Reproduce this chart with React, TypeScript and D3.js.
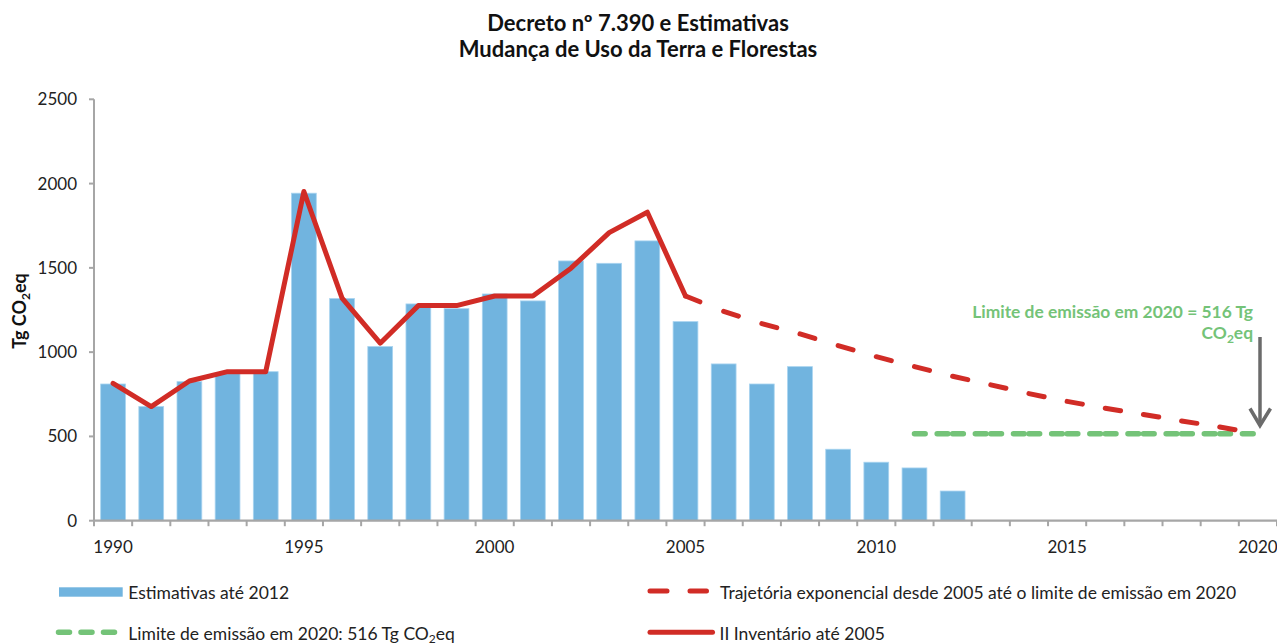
import React from "react";
import * as d3 from "d3";

const years: number[] = d3.range(1990, 2021);
const estimativaYears: number[] = d3.range(1990, 2013);
const estimativas: number[] = [811, 677, 825, 872, 884, 1943, 1318, 1033, 1286, 1258, 1345, 1304, 1541, 1527, 1660, 1181, 930, 811, 914, 424, 347, 313, 176];
const inventarioYears: number[] = d3.range(1990, 2006);
const inventario: number[] = [815, 677, 829, 884, 884, 1953, 1320, 1053, 1276, 1276, 1333, 1333, 1498, 1709, 1830, 1333];
const trajetoriaYears: number[] = d3.range(2005, 2021);
const trajetoria: number[] = [1333, 1242, 1169, 1108, 1039, 973, 914, 857, 806, 754, 708, 667, 630, 592, 556, 516];
const limiteYears: number[] = d3.range(2011, 2021);
const limite: number[] = [516, 516, 516, 516, 516, 516, 516, 516, 516, 516];
const yTicks: number[] = [0, 500, 1000, 1500, 2000, 2500];
const xTickLabels: number[] = [1990, 1995, 2000, 2005, 2010, 2015, 2020];

const W = 1277;
const H = 644;
const FONT = "Lato, 'Open Sans', sans-serif";
const BLUE = "#71b4df";
const RED = "#d12c26";
const GREEN = "#74c378";
const AXIS = "#a6a6a6";

export default function App() {
  const x = d3.scaleBand<number>().domain(years).range([94, 1277]).paddingInner(0).paddingOuter(0);
  const y = d3.scaleLinear().domain([0, 2500]).range([520.7, 99.3]);
  const bw = x.bandwidth();
  const cx = (yr: number) => (x(yr) as number) + bw / 2;
  const barW = bw * 0.65;

  const line = d3.line<[number, number]>().x((d) => cx(d[0])).y((d) => y(d[1]));
  const invPath = line(inventarioYears.map((yr, i) => [yr, inventario[i]] as [number, number])) || "";

  const trajSegs = d3.pairs(trajetoriaYears.map((yr, i) => [yr, trajetoria[i]] as [number, number]));
  const limSegs = d3.pairs(limiteYears.map((yr, i) => [yr, limite[i]] as [number, number]));

  const boundaries = d3.range(0, years.length + 1).map((i) => 94 + i * bw);

  return (
    <svg width={W} height={H} style={{ position: "absolute", left: 0, top: 0, background: "#fff" }} fontFamily={FONT}>
      {/* title */}
      <text x={638} y={31} textAnchor="middle" fontSize={22} fontWeight={700} fill="#111">
        Decreto nº 7.390 e Estimativas
      </text>
      <text x={638} y={57} textAnchor="middle" fontSize={22} fontWeight={700} fill="#111">
        Mudança de Uso da Terra e Florestas
      </text>

      {/* y axis label */}
      <text transform="translate(26,311) rotate(-90)" textAnchor="middle" fontSize={18} fontWeight={700} fill="#111">
        Tg CO<tspan fontSize={12} dy={4}>2</tspan><tspan dy={-4}>eq</tspan>
      </text>

      {/* bars */}
      {estimativaYears.map((yr, i) => (
        <rect key={yr} x={cx(yr) - barW / 2} y={y(estimativas[i])} width={barW} height={y(0) - y(estimativas[i])}
          fill={BLUE} stroke="#a9d4f0" strokeWidth={0.8} />
      ))}

      {/* y axis */}
      <line x1={94} x2={94} y1={y(2500)} y2={y(0)} stroke={AXIS} strokeWidth={2} />
      {yTicks.map((t) => (
        <g key={t}>
          <line x1={89} x2={94} y1={y(t)} y2={y(t)} stroke={AXIS} strokeWidth={2} />
          <text x={77} y={y(t)} dy="0.35em" textAnchor="end" fontSize={17} fill="#222">{t}</text>
        </g>
      ))}

      {/* x axis */}
      <line x1={93} x2={1277} y1={y(0)} y2={y(0)} stroke={AXIS} strokeWidth={2.2} />
      {boundaries.map((b, i) => (
        <line key={i} x1={b} x2={b} y1={y(0)} y2={y(0) + 5.5} stroke={AXIS} strokeWidth={2} />
      ))}
      {xTickLabels.map((t) => (
        <text key={t} x={cx(t)} y={553} textAnchor="middle" fontSize={17} fill="#222">{t}</text>
      ))}

      {/* limite green dashed */}
      {limSegs.map(([a, b], i) => (
        <line key={i} x1={cx(a[0])} x2={cx(b[0])} y1={y(a[1])} y2={y(b[1])} stroke={GREEN} strokeWidth={5.5}
          strokeLinecap="round" strokeDasharray="10.7 12 10.7 100" />
      ))}

      {/* trajetoria red dashed */}
      {trajSegs.map(([a, b], i) => (
        <line key={i} x1={cx(a[0])} x2={cx(b[0])} y1={y(a[1])} y2={y(b[1])} stroke={RED} strokeWidth={5}
          strokeLinecap="round" strokeDasharray="15.5 100" />
      ))}

      {/* inventario red solid */}
      <path d={invPath} fill="none" stroke={RED} strokeWidth={5} strokeLinejoin="round" strokeLinecap="round" />

      {/* annotation */}
      <text x={1253} y={318} textAnchor="end" fontSize={17.4} fontWeight={700} fill={GREEN}>
        Limite de emissão em 2020 = 516 Tg
      </text>
      <text x={1253} y={339} textAnchor="end" fontSize={17.4} fontWeight={700} fill={GREEN}>
        CO<tspan fontSize={12} dy={4}>2</tspan><tspan dy={-4}>eq</tspan>
      </text>
      <line x1={1260} x2={1260} y1={337} y2={425} stroke="#6b6b6b" strokeWidth={3.5} />
      <polyline points="1250,408.5 1260,425.5 1270.5,408.5" fill="none" stroke="#6b6b6b" strokeWidth={3.5} strokeLinejoin="miter" />

      {/* legend */}
      <rect x={59} y={587.3} width={63.7} height={9.4} fill={BLUE} />
      <text x={128.3} y={598.5} fontSize={17.5} fill="#222">Estimativas até 2012</text>

      <line x1={58.5} x2={115} y1={632.3} y2={632.3} stroke={GREEN} strokeWidth={5.5} strokeLinecap="round" strokeDasharray="11 11.5" />
      <text x={128.3} y={640} fontSize={17.5} fill="#222">
        Limite de emissão em 2020: 516 Tg CO<tspan fontSize={12} dy={3}>2</tspan><tspan dy={-3}>eq</tspan>
      </text>

      <line x1={650} x2={706.5} y1={591} y2={591} stroke={RED} strokeWidth={5} strokeLinecap="round" strokeDasharray="17 23" />
      <text x={720} y={599} fontSize={17.5} fill="#222">Trajetória exponencial desde 2005 até o limite de emissão em 2020</text>

      <line x1={650} x2={712.5} y1={632.3} y2={632.3} stroke={RED} strokeWidth={5} strokeLinecap="round" />
      <text x={719.5} y={640} fontSize={17.5} fill="#222">II Inventário até 2005</text>
    </svg>
  );
}
